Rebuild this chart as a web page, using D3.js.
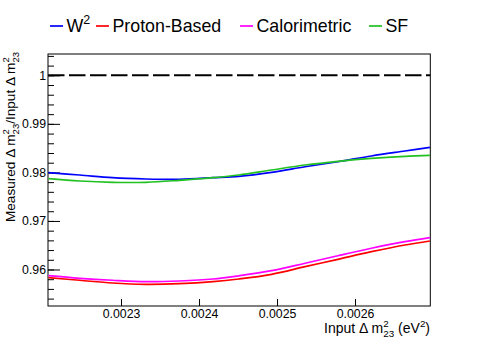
<!DOCTYPE html>
<html>
<head>
<meta charset="utf-8">
<script src="https://cdn.jsdelivr.net/npm/d3@7"></script>
<style>
  body { margin: 0; background: #fff; }
  svg { display: block; font-family: "Liberation Sans", Arial, sans-serif; }
</style>
</head>
<body>
<div id="chart"></div>
<script>
// data
const dm2Input = [0.002207, 0.002247, 0.002289, 0.002332, 0.002375, 0.002418, 0.002451,
                  0.002493, 0.002536, 0.002578, 0.002621, 0.002664, 0.002696];
const ratioW2 = [0.97994, 0.97946, 0.97891, 0.97864, 0.97858, 0.97891, 0.97920,
                 0.98002, 0.98117, 0.98220, 0.98338, 0.98441, 0.98517];
const ratioProton = [0.95831, 0.95778, 0.95722, 0.95695, 0.95708, 0.95749, 0.95804,
                     0.95901, 0.96058, 0.96210, 0.96367, 0.96505, 0.96587];
const ratioCalo = [0.95872, 0.95819, 0.95778, 0.95749, 0.95763, 0.95804, 0.95870,
                   0.95975, 0.96128, 0.96284, 0.96437, 0.96573, 0.96655];
const ratioSF = [0.97870, 0.97823, 0.97796, 0.97796, 0.97837, 0.97891, 0.97946,
                 0.98049, 0.98152, 0.98229, 0.98290, 0.98332, 0.98352];

const seriesNames = ["W2", "Proton-Based", "Calorimetric", "SF"];
const xTicks = [0.0023, 0.0024, 0.0025, 0.0026];
const yMajorTicks = [0.96, 0.97, 0.98, 0.99, 1.0];
const yMinorTicks = d3.range(0, 26).map(i => 0.954 + i * 0.002);
const xDomain = [0.0022064, 0.0026965];
const yDomain = [0.95248, 1.00439];

// layout
const width = 478, height = 344;
const margin = { top: 54, right: 47.7, bottom: 38, left: 48 };
const plotWidth = width - margin.left - margin.right;
const plotHeight = height - margin.top - margin.bottom;

const colors = ["#0000ff", "#ff0000", "#ff00ff", "#22c122"];
const allSeries = [ratioW2, ratioProton, ratioCalo, ratioSF];

const svg = d3.select("#chart").append("svg")
  .attr("width", width)
  .attr("height", height);

const g = svg.append("g")
  .attr("transform", `translate(${margin.left},${margin.top})`);

const xScale = d3.scaleLinear().domain(xDomain).range([0, plotWidth]);
const yScale = d3.scaleLinear().domain(yDomain).range([plotHeight, 0]);

// frame
g.append("rect")
  .attr("width", plotWidth)
  .attr("height", plotHeight)
  .attr("fill", "none")
  .attr("stroke", "#000")
  .attr("stroke-width", 1);

// y axis: major + minor ticks drawn inward
const yAxisG = g.append("g").attr("class", "axis axis-y")
  .call(d3.axisLeft(yScale).tickValues(yMajorTicks).tickSize(-12).tickPadding(2)
    .tickFormat(d => d3.format("")(+d.toFixed(2))));
yAxisG.select(".domain").remove();
yAxisG.selectAll("text").attr("font-size", 12.3).attr("fill", "#000")
  .attr("font-family", "Liberation Sans, Arial, sans-serif");

const yMinorG = g.append("g")
  .call(d3.axisLeft(yScale).tickValues(yMinorTicks.filter(v => v <= yDomain[1]))
    .tickSize(-6).tickFormat(""));
yMinorG.select(".domain").remove();

// x axis: major ticks only
const xAxisG = g.append("g").attr("class", "axis axis-x")
  .attr("transform", `translate(0,${plotHeight})`)
  .call(d3.axisBottom(xScale).tickValues(xTicks).tickSize(-7).tickPadding(3.5)
    .tickFormat(d3.format(".4f")));
xAxisG.select(".domain").remove();
xAxisG.selectAll("text").attr("font-size", 12.3).attr("fill", "#000")
  .attr("font-family", "Liberation Sans, Arial, sans-serif");

// reference line at 1
g.append("line")
  .attr("x1", 0).attr("x2", plotWidth)
  .attr("y1", yScale(1)).attr("y2", yScale(1))
  .attr("stroke", "#000")
  .attr("stroke-width", 2)
  .attr("stroke-dasharray", "16.5,4.5");

// curves
const line = d3.line()
  .x((d, i) => xScale(dm2Input[i]))
  .y(d => yScale(d))
  .curve(d3.curveCatmullRom.alpha(0.5));

allSeries.forEach((s, i) => {
  g.append("path")
    .datum(s)
    .attr("d", line)
    .attr("fill", "none")
    .attr("stroke", colors[i])
    .attr("stroke-width", 1.7);
});

// text with stacked super/subscripts: parts = [str] | ["sup", s] | ["ss", sup, sub]
function richText(t, parts, fs) {
  const small = fs * 0.7;
  let off = 0;
  parts.forEach(p => {
    if (typeof p === "string") {
      t.append("tspan").attr("dy", -off).text(p);
      off = 0;
    } else if (p[0] === "sup") {
      const up = -fs * 0.42;
      t.append("tspan").attr("font-size", small).attr("dy", up - off).text(p[1]);
      off = up;
    } else {
      const up = -fs * 0.42, down = fs * 0.3;
      t.append("tspan").attr("font-size", small).attr("dy", up - off).text(p[1]);
      t.append("tspan").attr("font-size", small)
        .attr("dx", -small * 0.556 * p[1].length)
        .attr("dy", down - up).text(p[2]);
      off = down;
    }
  });
}

// x title
const xt = svg.append("text")
  .attr("x", 430).attr("y", 333)
  .attr("text-anchor", "end")
  .attr("font-size", 14);
richText(xt, ["Input \u0394 m", ["ss", "2", "23"], " (eV", ["sup", "2"], ")"], 14);

// y title
const yt = svg.append("text")
  .attr("transform", "translate(15,52) rotate(-90)")
  .attr("text-anchor", "end")
  .attr("font-size", 13.6);
richText(yt, ["Measured \u0394 m", ["ss", "2", "23"], "/Input \u0394 m", ["ss", "2", "23"]], 13.6);

// legend
const legendX = [50, 96, 240, 369];
const legendY = 26;
seriesNames.forEach((name, i) => {
  svg.append("line")
    .attr("x1", legendX[i]).attr("x2", legendX[i] + 13)
    .attr("y1", legendY).attr("y2", legendY)
    .attr("stroke", colors[i]).attr("stroke-width", 1.7);
  const t = svg.append("text")
    .attr("x", legendX[i] + 16.5).attr("y", 31.5)
    .attr("font-size", 17.8);
  if (name === "W2") richText(t, ["W", ["sup", "2"]], 17.8);
  else t.text(name);
});
</script>
</body>
</html>
